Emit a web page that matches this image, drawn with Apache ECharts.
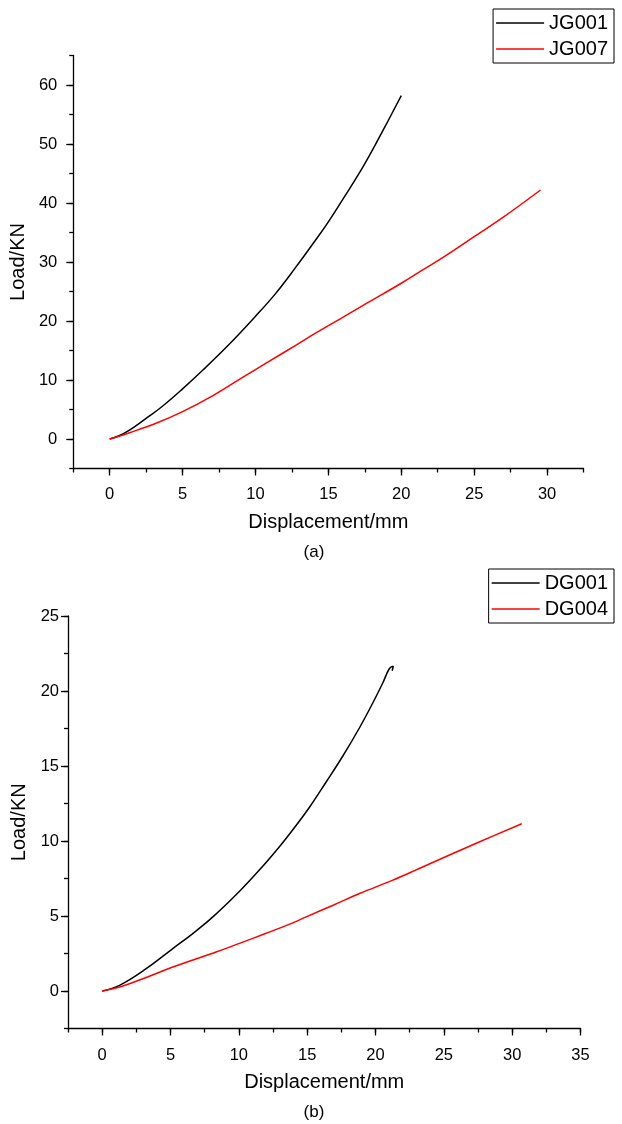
<!DOCTYPE html>
<html>
<head>
<meta charset="utf-8">
<script src="https://cdn.jsdelivr.net/npm/echarts@6/dist/echarts.min.js"></script>
<style>
html,body{margin:0;padding:0;background:#fff;}
#c{width:622px;height:1124px;}
</style>
</head>
<body>
<div id="c"></div>
<script>
// ---- data (a) ----
var jg001X = [0, 0.6, 1.36, 2.5, 3.64, 5, 6.36, 8.18, 10, 11.36, 12.73, 14.09, 15, 16.14, 17.27, 18.18, 19.09, 20];
var jg001Y = [0, 0.5, 1.5, 3.5, 5.6, 8.5, 11.6, 16.0, 20.8, 24.6, 29.0, 33.6, 36.8, 41.2, 45.7, 49.7, 53.9, 58.2];
var jg007X = [0, 1.36, 3.18, 5, 7.05, 9.09, 10.9, 12.7, 14.09, 15.9, 17.7, 20, 21.36, 23, 25, 27, 29.55];
var jg007Y = [0, 1.07, 2.66, 4.63, 7.3, 10.4, 13.1, 15.8, 17.9, 20.5, 23.1, 26.4, 28.5, 31.0, 34.3, 37.6, 42.2];
// ---- data (b) ----
var dg001X = [0, 1.27, 3.22, 5.17, 6.63, 8.1, 10, 11.5, 12.97, 13.95, 15.17, 16.4, 17.6, 18.83, 19.8, 20.54, 21.02, 21.3, 21.22];
var dg001Y = [0, 0.38, 1.49, 2.83, 3.83, 4.94, 6.6, 8.06, 9.62, 10.75, 12.25, 13.95, 15.65, 17.55, 19.2, 20.55, 21.5, 21.65, 21.35];
var dg004X = [0, 1.27, 2.98, 5.17, 8.34, 10, 11.95, 13.95, 14.93, 16.9, 18.83, 21.27, 23.2, 25, 27.5, 30.7];
var dg004Y = [0, 0.27, 0.82, 1.6, 2.6, 3.16, 3.83, 4.54, 4.94, 5.72, 6.5, 7.39, 8.17, 8.9, 9.9, 11.15];
// ---- ticks ----
var xTicksA = [0, 5, 10, 15, 20, 25, 30];
var yTicksA = [0, 10, 20, 30, 40, 50, 60];
var xTicksB = [0, 5, 10, 15, 20, 25, 30, 35];
var yTicksB = [0, 5, 10, 15, 20, 25];

function pairs(xs, ys){ return xs.map(function(x,i){ return [x, ys[i]]; }); }

var FONT = 'Liberation Sans, Arial, sans-serif';
var axisLineStyle = {color:'#000', width:1.3};

function majorX(gi, min, max, ticks, name, gap, margin){
  return {type:'value', gridIndex:gi, min:min, max:max, interval:2.5, position:'bottom',
    name:name, nameLocation:'middle', nameGap:gap,
    nameTextStyle:{color:'#000', fontSize:20, fontFamily:FONT},
    axisLine:{show:true, onZero:false, lineStyle:axisLineStyle},
    axisTick:{show:true, length:7, customValues:ticks, lineStyle:axisLineStyle},
    axisLabel:{show:true, customValues:ticks, margin:margin, color:'#000', fontSize:16.5, fontFamily:FONT},
    splitLine:{show:false}};
}
function minorX(gi, min, max){
  return {type:'value', gridIndex:gi, min:min, max:max, interval:2.5, position:'bottom',
    axisLine:{show:false, onZero:false},
    axisTick:{show:true, length:4, lineStyle:axisLineStyle},
    axisLabel:{show:false}, splitLine:{show:false}};
}
function majorY(gi, min, max, ticks, name, gap, interval, margin){
  return {type:'value', gridIndex:gi, min:min, max:max, interval:interval, position:'left',
    name:name, nameLocation:'middle', nameGap:gap,
    nameTextStyle:{color:'#000', fontSize:20, fontFamily:FONT},
    axisLine:{show:true, onZero:false, lineStyle:axisLineStyle},
    axisTick:{show:true, length:7, customValues:ticks, lineStyle:axisLineStyle},
    axisLabel:{show:true, customValues:ticks, margin:margin, color:'#000', fontSize:16.5, fontFamily:FONT},
    splitLine:{show:false}};
}
function minorY(gi, min, max, interval){
  return {type:'value', gridIndex:gi, min:min, max:max, interval:interval, position:'left',
    axisLine:{show:false, onZero:false},
    axisTick:{show:true, length:4, lineStyle:axisLineStyle},
    axisLabel:{show:false}, splitLine:{show:false}};
}
function legendCfg(names, top){
  return {data:names, orient:'vertical', right:8, top:top, icon:'rect',
    padding:[4,6,4,3], itemWidth:48, itemHeight:1.3, itemGap:6,
    borderColor:'#000', borderWidth:1, backgroundColor:'#fff',
    textStyle:{color:'#000', fontSize:20, fontFamily:FONT, lineHeight:20, padding:[0,0,0,0]},
    selectedMode:false};
}
function lineSeries(name, data, color, xi, yi){
  return {type:'line', name:name, data:data, xAxisIndex:xi, yAxisIndex:yi,
    symbol:'none', smooth:0.4, lineStyle:{color:color, width:1.5}, itemStyle:{color:color},
    animation:false, z:3};
}

var chart = echarts.init(document.getElementById('c'), null, {renderer:'canvas'});
chart.setOption({
  backgroundColor:'#fff',
  animation:false,
  grid:[
    {left:70, top:55.5, width:513.5, height:413},
    {left:68, top:616, width:512.5, height:412.5}
  ],
  xAxis:[
    majorX(0, -2.5, 32.5, xTicksA, 'Displacement/mm', 44, 17),
    minorX(0, -2.5, 32.5),
    majorX(1, -2.5, 35, xTicksB, 'Displacement/mm', 44, 18),
    minorX(1, -2.5, 35)
  ],
  yAxis:[
    majorY(0, -5, 65, yTicksA, 'Load/KN', 33, 5, 16),
    minorY(0, -5, 65, 5),
    majorY(1, -2.5, 25, yTicksB, 'Load/KN', 33, 2.5, 9),
    minorY(1, -2.5, 25, 2.5)
  ],
  legend:[ legendCfg(['JG001','JG007'], 9), legendCfg(['DG001','DG004'], 569) ],
  graphic:[
    {type:'text', style:{text:'(a)', fill:'#000', fontSize:17, fontFamily:FONT, textAlign:'center', textVerticalAlign:'middle', x:314, y:552}},
    {type:'text', style:{text:'(b)', fill:'#000', fontSize:17, fontFamily:FONT, textAlign:'center', textVerticalAlign:'middle', x:314, y:1112}}
  ],
  series:[
    lineSeries('JG001', pairs(jg001X, jg001Y), '#000000', 0, 0),
    lineSeries('JG007', pairs(jg007X, jg007Y), '#ff0000', 0, 0),
    lineSeries('DG001', pairs(dg001X, dg001Y), '#000000', 2, 2),
    lineSeries('DG004', pairs(dg004X, dg004Y), '#ff0000', 2, 2)
  ]
});
</script>
</body>
</html>
